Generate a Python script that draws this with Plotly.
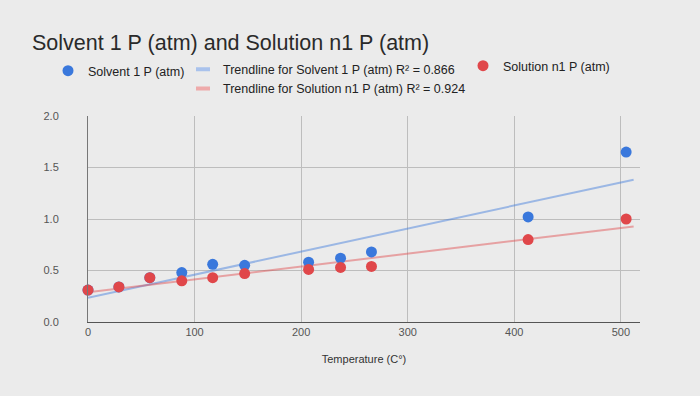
import numpy as np
import plotly.graph_objects as go

temperature = [0, 29, 58, 88, 117, 147, 207, 237, 266, 413, 505]
solvent_p = [0.31, 0.34, 0.43, 0.48, 0.56, 0.55, 0.58, 0.62, 0.68, 1.02, 1.65]
solution_p = [0.31, 0.34, 0.43, 0.40, 0.43, 0.47, 0.51, 0.53, 0.54, 0.80, 1.00]
x_ticks = [0, 100, 200, 300, 400, 500]
y_ticks = [0.0, 0.5, 1.0, 1.5, 2.0]
r2_solvent = 0.866
r2_solution = 0.924

blue = "#3a78dc"
red = "#e0474a"
blue_t = "rgba(58,120,220,0.45)"
red_t = "rgba(224,71,74,0.45)"

def trend(xs, ys):
    xa = np.array(xs, float)
    ya = np.array(ys, float)
    m, c = np.polyfit(xa, ya, 1)
    xx = np.array([0.0, 512.0])
    return xx.tolist(), (m * xx + c).tolist()

sx, sy = trend(temperature, solvent_p)
rx, ry = trend(temperature, solution_p)

W, H = 700, 396
fig = go.Figure()
# trendlines (drawn beneath points)
fig.add_trace(go.Scatter(x=sx, y=sy, mode="lines", line=dict(color=blue_t, width=2), showlegend=False,
                         hoverinfo="skip"))
fig.add_trace(go.Scatter(x=rx, y=ry, mode="lines", line=dict(color=red_t, width=2), showlegend=False,
                         hoverinfo="skip"))
# points
fig.add_trace(go.Scatter(x=temperature, y=solvent_p, mode="markers", marker=dict(color=blue, size=11),
                         name="Solvent 1 P (atm)", legend="legend", cliponaxis=False))
fig.add_trace(go.Scatter(x=temperature, y=solution_p, mode="markers", marker=dict(color=red, size=11),
                         name="Solution n1 P (atm)", legend="legend3", cliponaxis=False))
# legend keys for trendlines (legend-only entries placed outside the visible range)
fig.add_trace(go.Scatter(x=[sx[0]], y=[-10], mode="markers", hoverinfo="skip",
                         marker=dict(symbol="line-ew", size=10, color="#a9c2ec", line=dict(width=4, color="#a9c2ec")),
                         name=f"Trendline for Solvent 1 P (atm) R² = {r2_solvent}", legend="legend2"))
fig.add_trace(go.Scatter(x=[rx[0]], y=[-10], mode="markers", hoverinfo="skip",
                         marker=dict(symbol="line-ew", size=10, color="#eeaaaa", line=dict(width=4, color="#eeaaaa")),
                         name=f"Trendline for Solution n1 P (atm) R² = {r2_solution}", legend="legend2"))

leg_font = dict(size=12.5, color="#222", family="Liberation Sans, Arial, sans-serif")
fig.update_layout(
    width=W, height=H,
    margin=dict(l=88, r=60, t=116, b=74, autoexpand=False),
    paper_bgcolor="#ebebeb", plot_bgcolor="#ebebeb",
    font=dict(family="Liberation Sans, Arial, sans-serif", color="#444", size=11),
    title=dict(text="Solvent 1 P (atm) and Solution n1 P (atm)", x=32 / W, xanchor="left",
               y=1 - 42 / H, yanchor="middle", font=dict(size=21.5, color="#2a2a2a")),
    legend=dict(xref="container", yref="container", x=48 / W, xanchor="left", y=1 - 71 / H, yanchor="middle",
                bgcolor="rgba(0,0,0,0)", font=leg_font, itemwidth=30),
    legend2=dict(xref="container", yref="container", x=183 / W, xanchor="left", y=1 - 79 / H, yanchor="middle",
                 bgcolor="rgba(0,0,0,0)", font=leg_font, itemwidth=30, traceorder="normal"),
    legend3=dict(xref="container", yref="container", x=463 / W, xanchor="left", y=1 - 66 / H, yanchor="middle",
                 bgcolor="rgba(0,0,0,0)", font=leg_font, itemwidth=30),
    showlegend=True,
)
fig.update_xaxes(range=[0, 518], tickvals=x_ticks, showgrid=True, gridcolor="#bdbdbd",
                 zeroline=False, showline=True, linecolor="#555", linewidth=1,
                 title=dict(text="Temperature (C°)", font=dict(size=11, color="#333"), standoff=18),
                 tickfont=dict(size=11, color="#555"))
fig.update_yaxes(range=[0, 2.0], tickvals=y_ticks, tickformat=".1f", showgrid=True, gridcolor="#bdbdbd",
                 zeroline=False, showline=True, linecolor="#777", linewidth=1,
                 tickfont=dict(size=11, color="#555"), ticklabelstandoff=26)

fig.write_html("out.html", config={"displayModeBar": False},
               post_script="document.body.style.margin='0';")
